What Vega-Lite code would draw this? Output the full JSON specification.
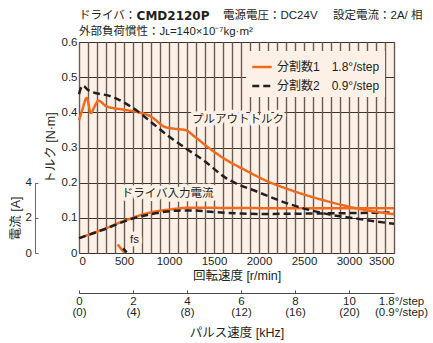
{
  "$schema": "https://vega.github.io/schema/vega-lite/v6.json",
  "width": 315,
  "height": 211,
  "autosize": "none",
  "padding": {"left": 79, "top": 42, "right": 39, "bottom": 90},
  "background": "white",
  "config": {
    "view": {"fill": "#fdf1e7", "stroke": "#3b302a", "strokeWidth": 1},
    "font": "'Liberation Sans', 'Noto Sans CJK JP', sans-serif",
    "axis": {
      "labelFont": "'Liberation Sans', 'Noto Sans CJK JP', sans-serif",
      "titleFont": "'Liberation Sans', 'Noto Sans CJK JP', sans-serif",
      "labelFontSize": 11.5,
      "titleFontSize": 12.5,
      "titleFontWeight": "normal",
      "labelColor": "#231f20",
      "titleColor": "#231f20"
    },
    "legend": {
      "orient": "top-right",
      "offset": 9,
      "padding": 5,
      "fillColor": "#fdf1e7",
      "labelFont": "'Liberation Sans', 'Noto Sans CJK JP', sans-serif",
      "labelFontSize": 12,
      "labelColor": "#231f20",
      "symbolType": "stroke",
      "symbolSize": 380,
      "symbolStrokeWidth": 2.5,
      "rowPadding": 2,
      "labelLimit": 200
    }
  },
  "datasets": {
    "torque": [
      {"rpm": 0, "torque": 0.377, "series": "分割数1　1.8°/step", "curve": "pullout"},
      {"rpm": 40, "torque": 0.41, "series": "分割数1　1.8°/step", "curve": "pullout"},
      {"rpm": 85, "torque": 0.441, "series": "分割数1　1.8°/step", "curve": "pullout"},
      {"rpm": 133, "torque": 0.398, "series": "分割数1　1.8°/step", "curve": "pullout"},
      {"rpm": 170, "torque": 0.415, "series": "分割数1　1.8°/step", "curve": "pullout"},
      {"rpm": 215, "torque": 0.433, "series": "分割数1　1.8°/step", "curve": "pullout"},
      {"rpm": 307, "torque": 0.417, "series": "分割数1　1.8°/step", "curve": "pullout"},
      {"rpm": 511, "torque": 0.407, "series": "分割数1　1.8°/step", "curve": "pullout"},
      {"rpm": 696, "torque": 0.398, "series": "分割数1　1.8°/step", "curve": "pullout"},
      {"rpm": 800, "torque": 0.388, "series": "分割数1　1.8°/step", "curve": "pullout"},
      {"rpm": 881, "torque": 0.372, "series": "分割数1　1.8°/step", "curve": "pullout"},
      {"rpm": 940, "torque": 0.36, "series": "分割数1　1.8°/step", "curve": "pullout"},
      {"rpm": 1067, "torque": 0.353, "series": "分割数1　1.8°/step", "curve": "pullout"},
      {"rpm": 1178, "torque": 0.35, "series": "分割数1　1.8°/step", "curve": "pullout"},
      {"rpm": 1289, "torque": 0.33, "series": "分割数1　1.8°/step", "curve": "pullout"},
      {"rpm": 1437, "torque": 0.3, "series": "分割数1　1.8°/step", "curve": "pullout"},
      {"rpm": 1622, "torque": 0.267, "series": "分割数1　1.8°/step", "curve": "pullout"},
      {"rpm": 1844, "torque": 0.236, "series": "分割数1　1.8°/step", "curve": "pullout"},
      {"rpm": 2067, "torque": 0.207, "series": "分割数1　1.8°/step", "curve": "pullout"},
      {"rpm": 2363, "torque": 0.178, "series": "分割数1　1.8°/step", "curve": "pullout"},
      {"rpm": 2733, "torque": 0.149, "series": "分割数1　1.8°/step", "curve": "pullout"},
      {"rpm": 3104, "torque": 0.126, "series": "分割数1　1.8°/step", "curve": "pullout"},
      {"rpm": 3500, "torque": 0.11, "series": "分割数1　1.8°/step", "curve": "pullout"},
      {"rpm": 0, "torque": 0.452, "series": "分割数2　0.9°/step", "curve": "pullout"},
      {"rpm": 40, "torque": 0.476, "series": "分割数2　0.9°/step", "curve": "pullout"},
      {"rpm": 104, "torque": 0.463, "series": "分割数2　0.9°/step", "curve": "pullout"},
      {"rpm": 381, "torque": 0.443, "series": "分割数2　0.9°/step", "curve": "pullout"},
      {"rpm": 641, "torque": 0.405, "series": "分割数2　0.9°/step", "curve": "pullout"},
      {"rpm": 826, "torque": 0.367, "series": "分割数2　0.9°/step", "curve": "pullout"},
      {"rpm": 1011, "torque": 0.329, "series": "分割数2　0.9°/step", "curve": "pullout"},
      {"rpm": 1196, "torque": 0.296, "series": "分割数2　0.9°/step", "curve": "pullout"},
      {"rpm": 1381, "torque": 0.264, "series": "分割数2　0.9°/step", "curve": "pullout"},
      {"rpm": 1622, "torque": 0.215, "series": "分割数2　0.9°/step", "curve": "pullout"},
      {"rpm": 1993, "torque": 0.173, "series": "分割数2　0.9°/step", "curve": "pullout"},
      {"rpm": 2363, "torque": 0.137, "series": "分割数2　0.9°/step", "curve": "pullout"},
      {"rpm": 2733, "torque": 0.112, "series": "分割数2　0.9°/step", "curve": "pullout"},
      {"rpm": 3104, "torque": 0.097, "series": "分割数2　0.9°/step", "curve": "pullout"},
      {"rpm": 3500, "torque": 0.083, "series": "分割数2　0.9°/step", "curve": "pullout"},
      {"rpm": 430, "torque": 0.024, "series": "分割数1　1.8°/step", "curve": "fs"},
      {"rpm": 500, "torque": 0.002, "series": "分割数1　1.8°/step", "curve": "fs"},
      {"rpm": 490, "torque": 0.013, "series": "分割数2　0.9°/step", "curve": "fs"},
      {"rpm": 530, "torque": 0.002, "series": "分割数2　0.9°/step", "curve": "fs"}
    ],
    "current": [
      {"rpm": 0, "current": 0.84, "series": "分割数1　1.8°/step"},
      {"rpm": 150, "current": 1.12, "series": "分割数1　1.8°/step"},
      {"rpm": 326, "current": 1.46, "series": "分割数1　1.8°/step"},
      {"rpm": 450, "current": 1.73, "series": "分割数1　1.8°/step"},
      {"rpm": 585, "current": 1.98, "series": "分割数1　1.8°/step"},
      {"rpm": 700, "current": 2.18, "series": "分割数1　1.8°/step"},
      {"rpm": 807, "current": 2.32, "series": "分割数1　1.8°/step"},
      {"rpm": 950, "current": 2.44, "series": "分割数1　1.8°/step"},
      {"rpm": 1067, "current": 2.51, "series": "分割数1　1.8°/step"},
      {"rpm": 1200, "current": 2.57, "series": "分割数1　1.8°/step"},
      {"rpm": 1400, "current": 2.57, "series": "分割数1　1.8°/step"},
      {"rpm": 1700, "current": 2.56, "series": "分割数1　1.8°/step"},
      {"rpm": 2200, "current": 2.55, "series": "分割数1　1.8°/step"},
      {"rpm": 2800, "current": 2.55, "series": "分割数1　1.8°/step"},
      {"rpm": 3500, "current": 2.55, "series": "分割数1　1.8°/step"},
      {"rpm": 0, "current": 0.84, "series": "分割数2　0.9°/step"},
      {"rpm": 150, "current": 1.11, "series": "分割数2　0.9°/step"},
      {"rpm": 326, "current": 1.44, "series": "分割数2　0.9°/step"},
      {"rpm": 450, "current": 1.7, "series": "分割数2　0.9°/step"},
      {"rpm": 585, "current": 1.94, "series": "分割数2　0.9°/step"},
      {"rpm": 700, "current": 2.1, "series": "分割数2　0.9°/step"},
      {"rpm": 807, "current": 2.22, "series": "分割数2　0.9°/step"},
      {"rpm": 950, "current": 2.34, "series": "分割数2　0.9°/step"},
      {"rpm": 1100, "current": 2.41, "series": "分割数2　0.9°/step"},
      {"rpm": 1250, "current": 2.42, "series": "分割数2　0.9°/step"},
      {"rpm": 1493, "current": 2.33, "series": "分割数2　0.9°/step"},
      {"rpm": 1750, "current": 2.26, "series": "分割数2　0.9°/step"},
      {"rpm": 1974, "current": 2.22, "series": "分割数2　0.9°/step"},
      {"rpm": 2500, "current": 2.24, "series": "分割数2　0.9°/step"},
      {"rpm": 3000, "current": 2.27, "series": "分割数2　0.9°/step"},
      {"rpm": 3500, "current": 2.3, "series": "分割数2　0.9°/step"}
    ],
    "labels": [
      {"rpm": 1256, "torque": 0.377, "label": "プルアウトトルク"},
      {"rpm": 474, "torque": 0.168, "label": "ドライバ入力電流"},
      {"rpm": 567, "torque": 0.036, "label": "fs"}
    ],
    "header": [
      {"rpm": 0, "torque": 0.675, "text": "ドライバ："},
      {"rpm": 1600, "torque": 0.675, "text": "電源電圧：DC24V"},
      {"rpm": 2822, "torque": 0.675, "text": "設定電流：2A/ 相"},
      {"rpm": 0, "torque": 0.628, "text": "外部負荷慣性：Jʟ=140×10⁻⁷kg·m²"}
    ],
    "headerBold": [
      {"rpm": 640, "torque": 0.675, "text": "CMD2120P"}
    ]
  },
  "resolve": {"scale": {"y": "independent"}, "axis": {"x": "independent", "y": "independent"}},
  "layer": [
    {
      "data": {"name": "current"},
      "mark": {"type": "line", "strokeWidth": 2.5, "interpolate": "monotone"},
      "encoding": {
        "x": {"field": "rpm", "type": "quantitative", "scale": {"domain": [0, 3500], "nice": false},
          "axis": {"orient": "bottom", "values": [0,100,200,300,400,500,600,700,800,900,1000,1100,1200,1300,1400,1500,1600,1700,1800,1900,2000,2100,2200,2300,2400,2500,2600,2700,2800,2900,3000,3100,3200,3300,3400,3500],
            "grid": false, "labels": false, "ticks": true, "tickSize": -211, "tickColor": "#6a5b54", "tickWidth": 1.4, "domain": false, "title": null}},
        "y": {"field": "current", "type": "quantitative", "scale": {"domain": [0, 4], "range": [211, 140.67], "nice": false},
          "axis": {"orient": "left", "offset": 44, "values": [0, 2, 4], "grid": false, "domain": true, "domainColor": "#666666",
            "ticks": true, "tickColor": "#666666", "tickSize": -3, "labelPadding": 6.5, "title": "電流 [A]", "titlePadding": 3}},
        "color": {"field": "series", "type": "nominal", "title": null,
          "scale": {"domain": ["分割数1　1.8°/step", "分割数2　0.9°/step"], "range": ["#f26b1d", "#231f20"]}},
        "strokeDash": {"field": "series", "type": "nominal", "title": null,
          "scale": {"domain": ["分割数1　1.8°/step", "分割数2　0.9°/step"], "range": [[1, 0], [7, 4]]}}
      }
    },
    {
      "data": {"name": "torque"},
      "mark": {"type": "line", "strokeWidth": 2.5, "interpolate": "monotone"},
      "encoding": {
        "x": {"field": "rpm", "type": "quantitative", "scale": {"domain": [0, 3500], "nice": false},
          "axis": {"orient": "bottom", "values": [0, 500, 1000, 1500, 2000, 2500, 3000, 3500], "format": "d", "grid": false, "ticks": false, "domain": false,
            "labelPadding": 2, "title": "回転速度 [r/min]", "titlePadding": 3}},
        "y": {"field": "torque", "type": "quantitative", "scale": {"domain": [0, 0.6], "nice": false},
          "axis": {"orient": "left", "values": [0, 0.1, 0.2, 0.3, 0.4, 0.5, 0.6], "grid": true, "gridColor": "#3d322c", "gridWidth": 1,
            "ticks": false, "domain": false, "labelPadding": 2,
            "labelExpr": "datum.value == 0 ? '0' : format(datum.value, '.1f')",
            "title": "トルク [N·m]", "titlePadding": 4}},
        "color": {"field": "series", "type": "nominal", "title": null,
          "scale": {"domain": ["分割数1　1.8°/step", "分割数2　0.9°/step"], "range": ["#f26b1d", "#231f20"]}},
        "strokeDash": {"field": "series", "type": "nominal", "title": null,
          "scale": {"domain": ["分割数1　1.8°/step", "分割数2　0.9°/step"], "range": [[1, 0], [7, 4]]}},
        "detail": {"field": "curve", "type": "nominal"}
      }
    },
    {
      "data": {"name": "labels"},
      "mark": {"type": "text", "align": "left", "baseline": "middle", "fontSize": 11.5, "stroke": "#fdf1e7", "strokeWidth": 7, "strokeJoin": "round", "fill": "#fdf1e7"},
      "encoding": {
        "x": {"field": "rpm", "type": "quantitative", "scale": {"domain": [0, 3500], "nice": false},
          "axis": {"orient": "bottom", "offset": 40, "values": [0, 600, 1200, 1800, 2400, 3000, 3500],
            "labelExpr": "datum.value == 3500 ? ['1.8°/step', '(0.9°/step)'] : [format(datum.value / 300, 'd'), '(' + format(datum.value / 150, 'd') + ')']",
            "grid": false, "domain": true, "domainColor": "#4a4a4a", "ticks": true, "tickColor": "#4a4a4a", "tickSize": -3,
            "tickOpacity": {"condition": {"test": "datum.value == 3500", "value": 0}, "value": 1},
            "labelOffset": {"condition": {"test": "datum.value == 3500", "value": 7}, "value": 0},
            "labelPadding": 5, "labelLineHeight": 11, "labelBaseline": "top", "labelOverlap": false, "labelBound": false, "labelFlush": false,
            "title": "パルス速度 [kHz]", "titlePadding": 9}},
        "y": {"field": "torque", "type": "quantitative", "scale": {"domain": [0, 0.6], "nice": false}, "axis": null},
        "text": {"field": "label"}
      }
    },
    {
      "data": {"name": "labels"},
      "mark": {"type": "text", "align": "left", "baseline": "middle", "fontSize": 11.5, "fill": "#231f20"},
      "encoding": {
        "x": {"field": "rpm", "type": "quantitative", "scale": {"domain": [0, 3500], "nice": false}, "axis": null},
        "y": {"field": "torque", "type": "quantitative", "scale": {"domain": [0, 0.6], "nice": false}, "axis": null},
        "text": {"field": "label"}
      }
    },
    {
      "data": {"name": "header"},
      "mark": {"type": "text", "align": "left", "baseline": "middle", "fontSize": 11.5, "fill": "#231f20"},
      "encoding": {
        "x": {"field": "rpm", "type": "quantitative", "scale": {"domain": [0, 3500], "nice": false}, "axis": null},
        "y": {"field": "torque", "type": "quantitative", "scale": {"domain": [0, 0.6], "nice": false}, "axis": null},
        "text": {"field": "text"}
      }
    },
    {
      "data": {"name": "headerBold"},
      "mark": {"type": "text", "align": "left", "baseline": "middle", "fontSize": 12, "fontWeight": "bold", "font": "'DejaVu Sans', sans-serif", "fill": "#231f20"},
      "encoding": {
        "x": {"field": "rpm", "type": "quantitative", "scale": {"domain": [0, 3500], "nice": false}, "axis": null},
        "y": {"field": "torque", "type": "quantitative", "scale": {"domain": [0, 0.6], "nice": false}, "axis": null},
        "text": {"field": "text"}
      }
    }
  ]
}
